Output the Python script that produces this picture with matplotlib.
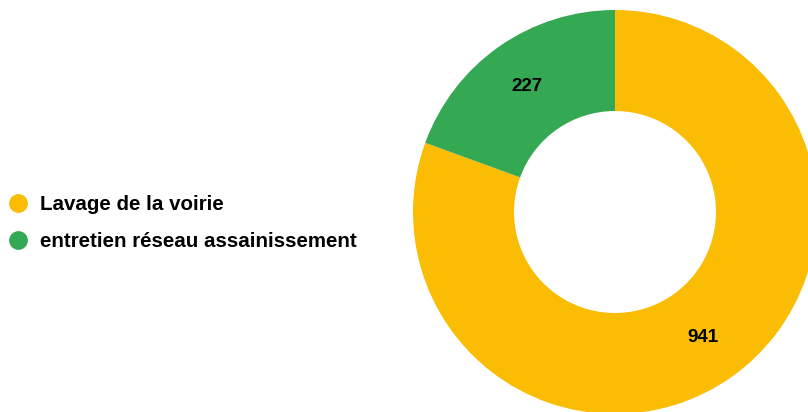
import matplotlib
matplotlib.use("Agg")
import matplotlib.pyplot as plt
from matplotlib.lines import Line2D
import numpy as np

categories = ["Lavage de la voirie", "entretien réseau assainissement"]
values = [941, 227]
colors = ["#FBBC04", "#34A853"]

plt.rcParams['font.family'] = ['Liberation Sans', 'DejaVu Sans']

W, H = 808, 412
fig = plt.figure(figsize=(W/100, H/100), dpi=100)
cx, cy, R = 615, 212, 202
ax = fig.add_axes([(cx-R)/W, (H-cy-R)/H, 2*R/W, 2*R/H])
wedges, _ = ax.pie(values, colors=colors, startangle=90, counterclock=False,
                   radius=1, wedgeprops=dict(width=0.5, linewidth=0))
ax.set_xlim(-1, 1); ax.set_ylim(-1, 1)
ax.set_aspect('equal'); ax.axis('off')

total = sum(values)
ang = 90.0
for v in values:
    span = 360.0 * v / total
    mid = np.deg2rad(ang - span/2)
    ang -= span
    r = 0.76
    ax.text(r*np.cos(mid), r*np.sin(mid), str(v), ha='center', va='center',
            fontsize=13.5, fontweight='bold', color='black')

handles = [Line2D([], [], marker='o', linestyle='none', markersize=12.5,
                  markerfacecolor=c, markeredgecolor=c) for c in colors]
fig.legend(handles, categories, loc='center left',
           bbox_to_anchor=(5.5/W, 1-223/H), frameon=False, borderpad=0,
           prop=dict(size=14.8, weight='bold'), handletextpad=0.46,
           labelspacing=0.87, handlelength=1.2, borderaxespad=0)

fig.savefig("out.png", dpi=100)
